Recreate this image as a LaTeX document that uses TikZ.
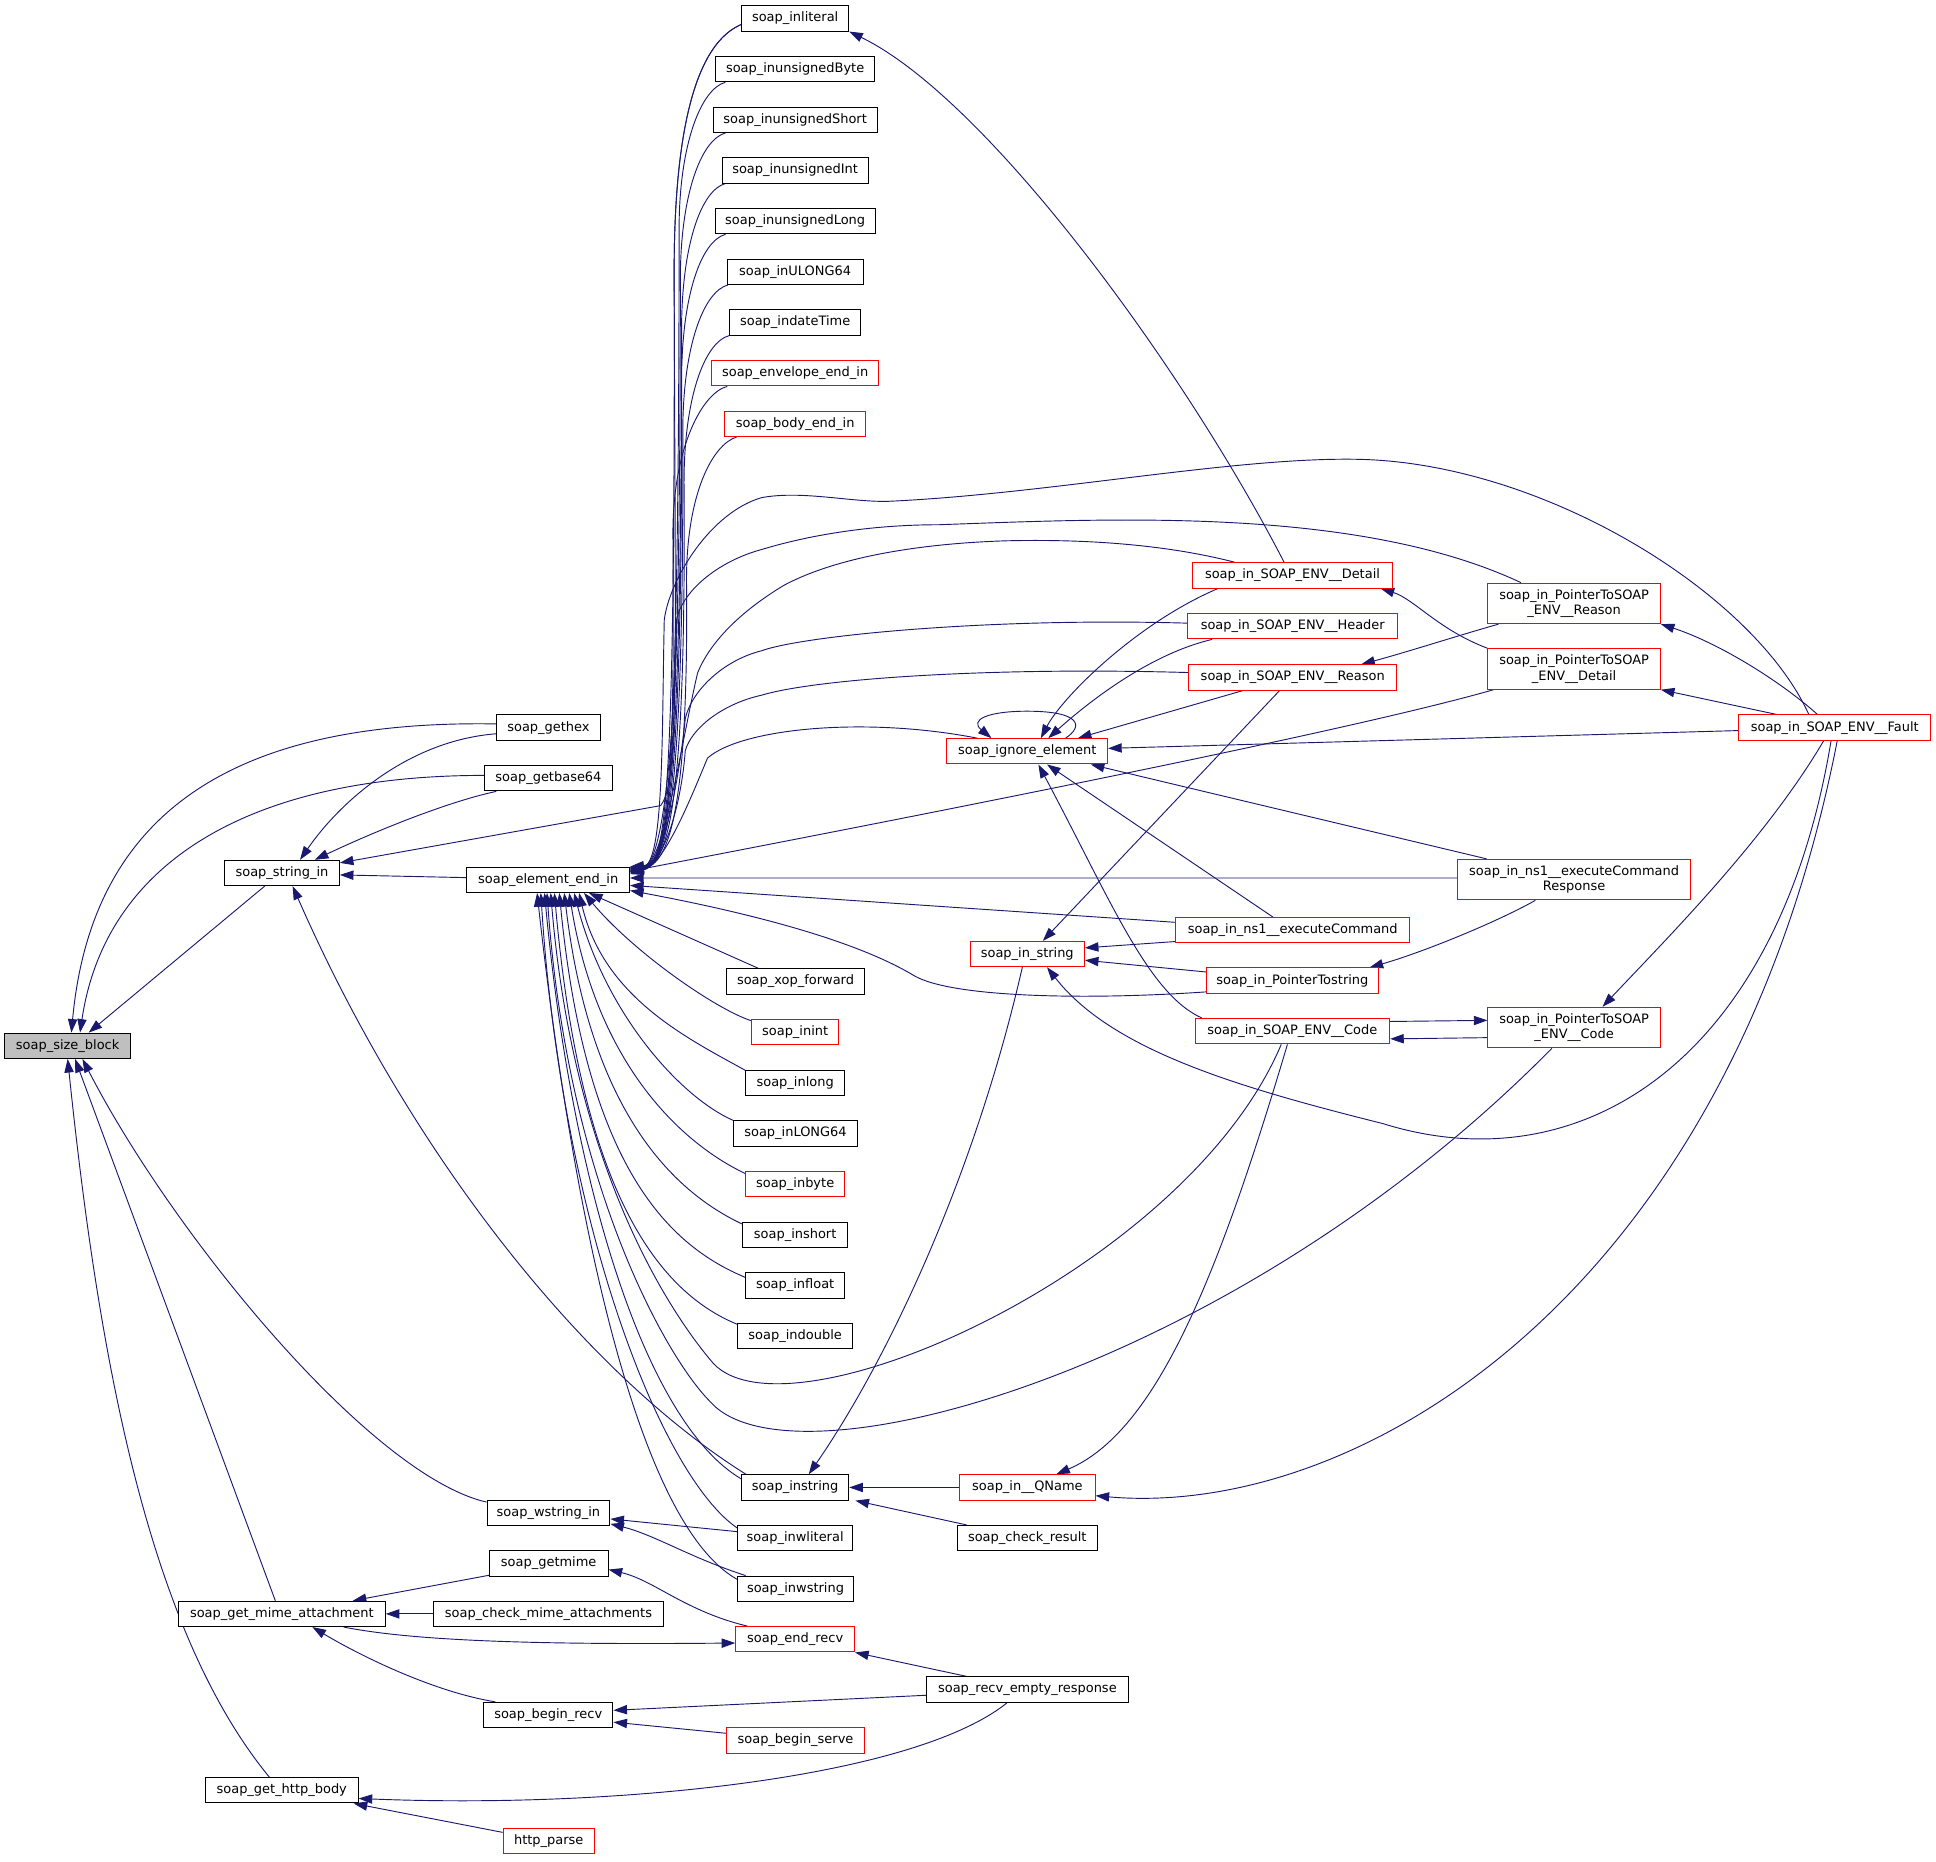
\documentclass[tikz,border=0pt]{standalone}
\usepackage{fontspec}
\setmainfont{DejaVu Sans}
\usetikzlibrary{arrows.meta,calc}
\definecolor{edgec}{HTML}{191970}
\definecolor{nred}{HTML}{FF0000}
\definecolor{gfill}{HTML}{BFBFBF}
\pgfdeclarelayer{back}
\pgfdeclarelayer{bg}
\pgfsetlayers{back,bg,main}
\tikzset{
  nd/.style={draw=black, fill=white, line width=0.8pt, minimum height=20.5pt, inner xsep=1pt, inner ysep=0pt, font=\fontsize{10.5}{12.5}\selectfont},
  rd/.style={nd, draw=nred},
  rdd/.style={rd, minimum height=32.8pt, minimum width=139.7pt, align=center},
  e/.style={draw=edgec, line width=0.75pt, {Triangle[length=11pt,width=7.5pt]}-},
}
\begin{document}
\begin{tikzpicture}[x=1pt,y=-1pt]
\begin{pgfonlayer}{back}
\fill[white] (0,0) rectangle (1568,1507.3);
\end{pgfonlayer}
\useasboundingbox (0,0) rectangle (1568,1507.3);
% column 1-3
\node[nd, fill=gfill, minimum width=102.3pt] (ss) at (54.8,847) {soap\_size\_block};
\node[nd, minimum width=92.9pt] (si) at (228.4,707) {soap\_string\_in};
\node[nd, minimum width=167.5pt] (gma) at (228.3,1307.1) {soap\_get\_mime\_attachment};
\node[nd, minimum width=123.7pt] (ghb) at (228.2,1450) {soap\_get\_http\_body};
\node[nd, minimum width=84.3pt] (gh) at (444.2,589.3) {soap\_gethex};
\node[nd, minimum width=103.8pt] (gb) at (444.2,630.3) {soap\_getbase64};
\node[nd, minimum width=131.7pt] (ee) at (444,712.6) {soap\_element\_end\_in};
\node[nd, minimum width=99.5pt] (wsi) at (444.2,1225.2) {soap\_wstring\_in};
\node[nd, minimum width=96.2pt] (gm) at (444.4,1266.2) {soap\_getmime};
\node[nd, minimum width=186.9pt] (cma) at (444.2,1307.1) {soap\_check\_mime\_attachments};
\node[nd, minimum width=104.9pt] (br) at (444,1389) {soap\_begin\_recv};
\node[rd, minimum width=73.8pt] (hp) at (444.4,1491) {http\_parse};
% column 4
\node[nd, minimum width=86.8pt] (il) at (644,14.9) {soap\_inliteral};
\node[nd, minimum width=128.4pt] (iub) at (644,56) {soap\_inunsignedByte};
\node[nd, minimum width=133pt] (ius) at (644,97) {soap\_inunsignedShort};
\node[nd, minimum width=118.2pt] (iui) at (644,138) {soap\_inunsignedInt};
\node[nd, minimum width=129.8pt] (iul) at (644,179.1) {soap\_inunsignedLong};
\node[nd, minimum width=110pt] (iu64) at (644,220.1) {soap\_inULONG64};
\node[nd, minimum width=106.3pt] (idt) at (644,261.2) {soap\_indateTime};
\node[rd, minimum width=135.2pt] (eei) at (644,302.3) {soap\_envelope\_end\_in};
\node[rd, minimum width=114pt] (bei) at (644,343.3) {soap\_body\_end\_in};
\node[nd, minimum width=111.4pt] (xop) at (644.3,794.9) {soap\_xop\_forward};
\node[rd, minimum width=70.2pt] (iint) at (644,835.9) {soap\_inint};
\node[nd, minimum width=80pt] (ilong) at (644,877) {soap\_inlong};
\node[nd, minimum width=100.5pt] (il64) at (644.3,918) {soap\_inLONG64};
\node[rd, minimum width=80pt] (ibyte) at (644,959.1) {soap\_inbyte};
\node[nd, minimum width=84.6pt] (ishort) at (644,1000.1) {soap\_inshort};
\node[nd, minimum width=80pt] (ifloat) at (644,1041.2) {soap\_infloat};
\node[nd, minimum width=93pt] (idouble) at (644,1082.2) {soap\_indouble};
\node[nd, minimum width=86.8pt] (istr) at (644,1204.7) {soap\_instring};
\node[nd, minimum width=93pt] (iwl) at (644,1245.7) {soap\_inwliteral};
\node[nd, minimum width=94pt] (iws) at (644.3,1286.7) {soap\_inwstring};
\node[rd, minimum width=96.2pt] (er) at (644,1327.7) {soap\_end\_recv};
\node[rd, minimum width=111.4pt] (bs) at (644.3,1409.6) {soap\_begin\_serve};
% column 5
\node[rd, minimum width=130.1pt] (ig) at (832,608.5) {soap\_ignore\_element};
\node[rd, minimum width=92.5pt] (ins) at (832,772.7) {soap\_in\_string};
\node[rd, minimum width=109.6pt] (qn) at (832.1,1204.7) {soap\_in\_\_QName};
\node[nd, minimum width=113.5pt] (cr) at (832,1245.7) {soap\_check\_result};
\node[nd, minimum width=163.1pt] (rer) at (832.1,1368.4) {soap\_recv\_empty\_response};
% column 6
\node[rd, minimum width=162pt] (det) at (1046.8,466) {soap\_in\_SOAP\_ENV\_\_Detail};
\node[rd, minimum width=169.7pt] (hdr) at (1047,507.2) {soap\_in\_SOAP\_ENV\_\_Header};
\node[rd, minimum width=168.2pt] (rea) at (1047,548.7) {soap\_in\_SOAP\_ENV\_\_Reason};
\node[rd, minimum width=189.2pt] (exc) at (1047,753.4) {soap\_in\_ns1\_\_executeCommand};
\node[rd, minimum width=139.3pt] (pts) at (1046.7,794.2) {soap\_in\_PointerTostring};
\node[rd, minimum width=157.6pt] (code) at (1046.7,835.2) {soap\_in\_SOAP\_ENV\_\_Code};
% column 7-8
\node[rdd] (ptr) at (1274.9,488.7) {soap\_in\_PointerToSOAP\\\_ENV\_\_Reason};
\node[rdd] (ptd) at (1274.9,541.8) {soap\_in\_PointerToSOAP\\\_ENV\_\_Detail};
\node[rdd, minimum width=188.9pt] (resp) at (1274.9,712.4) {soap\_in\_ns1\_\_executeCommand\\Response};
\node[rdd] (ptc) at (1274.9,832.2) {soap\_in\_PointerToSOAP\\\_ENV\_\_Code};
\node[rd, minimum width=155.8pt] (flt) at (1486,589.3) {soap\_in\_SOAP\_ENV\_\_Fault};

\begin{pgfonlayer}{bg}
% soap_size_block
\draw[e] ($(ss.north)+(3,0)$) .. controls (75,650) and (200,583) .. ($(gh.west)+(0,-3)$);
\draw[e] ($(ss.north)+(10,0)$) .. controls (85,700) and (200,628) .. ($(gb.west)+(0,-2.3)$);
\draw[e] ($(ss.north)+(17,0)$) -- ($(si.south)+(-14,0)$);
\draw[e] ($(ss.south)+(12,0)$) .. controls (140,1000) and (300,1195) .. ($(wsi.north west)+(0,2)$);
\draw[e] ($(ss.south)+(6,0)$) -- ($(gma.north)+(-5.3,0)$);
\draw[e] (ss.south) .. controls (80,1100) and (120,1320) .. ($(ghb.north)+(-10,0)$);
% soap_string_in
\draw[e] ($(si.north)+(14.6,0)$) .. controls (275,650) and (330,600) .. ($(gh.west)+(0,5)$);
\draw[e] ($(si.north)+(26.6,0)$) .. controls (300,675) and (360,650) .. ($(gb.south west)+(10,0)$);
\draw[e] ($(si.east)+(0,1.6)$) -- ($(ee.west)+(0,-1.8)$);
\draw[e] ($(si.north east)+(0,2.5)$) -- (535,652.5) .. controls (550,633) and (547,560) .. (546,220) .. controls (546,100) and (565,35) .. ($(il.west)+(0,5)$);
\draw[e] ($(si.south)+(8.6,0)$) .. controls (330,930) and (470,1110) .. ($(istr.north west)+(4,0)$);
% element_end_in, upper fan
\draw[e] (ee.north east) .. controls (538,700) and (547,675) .. (546,220) .. controls (546,100) and (565,35) .. ($(il.west)+(0,5)$);
\draw[e] ($(ee.north east)+(0,0.5)$) .. controls (538,700) and (550,675) .. (550,186) .. controls (550,116) and (568,72) .. ($(iub.south west)+(8,0)$);
\draw[e] ($(ee.north east)+(0,1)$) .. controls (538,700) and (551,675) .. (551,227) .. controls (551,157) and (568,113) .. ($(ius.south west)+(10.5,0)$);
\draw[e] ($(ee.north east)+(0,1.5)$) .. controls (538,700) and (552,675) .. (552,268) .. controls (552,198) and (568,154) .. ($(iui.south west)+(3,0)$);
\draw[e] ($(ee.north east)+(0,2)$) .. controls (538,700) and (553,675) .. (552,309) .. controls (552,239) and (568,195) .. ($(iul.south west)+(9,0)$);
\draw[e] ($(ee.north east)+(0,2.5)$) .. controls (538,700) and (554,675) .. (553,350) .. controls (553,280) and (570,236) .. ($(iu64.south west)+(1,0)$);
\draw[e] ($(ee.north east)+(0,3)$) .. controls (538,700) and (556,675) .. (554,391) .. controls (554,321) and (571,277) .. (idt.south west);
\draw[e] ($(ee.north east)+(0,3.5)$) .. controls (538,700) and (547,675) .. (545,432) .. controls (545,362) and (569,318) .. ($(eei.south west)+(13,0)$);
\draw[e] ($(ee.north east)+(0,4)$) .. controls (538,700) and (558,675) .. (556,470) .. controls (556,400) and (577,360) .. ($(bei.south west)+(10,0)$);
% element_end_in, lower fan
\draw[e] ($(ee.south)+(33,0)$) -- ($(xop.north west)+(26,0)$);
\draw[e] ($(ee.south)+(29,0)$) .. controls (513,771) and (579,817) .. ($(iint.north west)+(0,1.5)$);
\draw[e] ($(ee.south)+(25,0)$) .. controls (489,808) and (557,841) .. ($(ilong.north west)+(0,0.5)$);
\draw[e] ($(ee.south)+(21,0)$) .. controls (490,820) and (550,888) .. (il64.north west);
\draw[e] ($(ee.south)+(17,0)$) .. controls (483,860) and (550,925) .. ($(ibyte.north west)+(0,2)$);
\draw[e] ($(ee.south)+(13,0)$) .. controls (478,900) and (545,965) .. ($(ishort.north west)+(0,2)$);
\draw[e] ($(ee.south)+(9,0)$) .. controls (475,950) and (545,1010) .. ($(ifloat.north west)+(0,4)$);
\draw[e] ($(ee.south)+(5,0)$) .. controls (470,960) and (530,1045) .. ($(idouble.north west)+(0,1)$);
\draw[e] ($(ee.south)+(2,0)$) .. controls (465,950) and (545,1065) .. (575,1101) .. controls (630,1175) and (960,1030) .. ($(code.south)+(-9,0)$);
\draw[e] ($(ee.south)+(-1,0)$) .. controls (460,960) and (540,1100) .. (575,1135) .. controls (640,1210) and (1000,1110) .. ($(ptc.south)+(-18,0)$);
\draw[e] ($(ee.south)+(-3,0)$) .. controls (462,950) and (520,1150) .. ($(istr.west)+(0,-7)$);
\draw[e] ($(ee.south)+(-6,0)$) .. controls (455,990) and (535,1195) .. ($(iwl.north west)+(0,2.5)$);
\draw[e] ($(ee.south)+(-9,0)$) .. controls (460,950) and (510,1230) .. ($(iws.north west)+(0,3)$);
% element_end_in, right side
\draw[e] ($(ee.east)+(0,-1.5)$) -- ($(resp.west)+(0,-1.3)$);
\draw[e] ($(ee.east)+(0,4.5)$) -- ($(exc.west)+(0,-6.4)$);
\draw[e] ($(ee.south east)+(0,-2)$) .. controls (600,738) and (690,760) .. (740,790) .. controls (770,808) and (880,810) .. ($(pts.south west)+(0,-1.5)$);
\draw[e] ($(ee.east)+(0,-7)$) .. controls (800,650) and (1100,590) .. ($(ptd.south west)+(5,0)$);
\draw[e] ($(ee.north east)+(0,1)$) .. controls (538,700) and (536,590) .. (538,502) .. controls (542,470) and (575,415) .. (617,403) .. controls (650,397) and (690,407) .. (720,406) .. controls (850,400) and (1000,370) .. (1100,372) .. controls (1250,375) and (1420,480) .. ($(flt.north)+(-21,0)$);
\draw[e] ($(ee.north east)+(0,2)$) .. controls (538,700) and (546,590) .. (548,502) .. controls (552,480) and (580,455) .. (617,445) .. controls (650,435) and (700,425) .. (760,425) .. controls (900,420) and (1100,410) .. ($(ptr.north)+(-43,0)$);
\draw[e] ($(ee.north east)+(0,3)$) .. controls (538,700) and (552,600) .. (565,545) .. controls (575,520) and (600,495) .. (635,474) .. controls (680,450) and (750,440) .. (815,438) .. controls (900,436) and (960,445) .. ($(det.north)+(-46.8,0)$);
\draw[e] ($(ee.north east)+(0,4)$) .. controls (538,700) and (550,630) .. (555,582) .. controls (560,560) and (585,535) .. (617,527) .. controls (650,515) and (800,500) .. ($(hdr.west)+(0,-2.5)$);
\draw[e] ($(ee.north east)+(0,5)$) .. controls (538,700) and (552,650) .. (555,608) .. controls (560,590) and (585,570) .. (617,563) .. controls (660,550) and (800,540) .. ($(rea.west)+(0,-4)$);
\draw[e] ($(ee.north east)+(0,6)$) .. controls (538,700) and (558,650) .. (573,614) .. controls (600,590) and (700,580) .. ($(ig.north west)+(25,0)$);
% inliteral <- Detail
\draw[e] (il.south east) .. controls (800,80) and (960,300) .. ($(det.north)+(-6.8,0)$);
% ignore_element
\draw[e] ($(ig.north)+(-29,0)$) .. controls (785,583) and (800,576) .. (832,576) .. controls (875,576) and (878,588) .. ($(ig.north)+(31,0)$);
\draw[e] ($(ig.north)+(11,0)$) .. controls (860,565) and (920,505) .. ($(det.south west)+(21,0)$);
\draw[e] ($(ig.north)+(17,0)$) .. controls (880,570) and (930,530) .. ($(hdr.south west)+(20,0)$);
\draw[e] ($(ig.north)+(41,0)$) -- ($(rea.south west)+(44,0)$);
\draw[e] ($(ig.east)+(0,-2.4)$) -- ($(flt.west)+(0,2.4)$);
\draw[e] ($(ig.south east)+(-14,0)$) -- ($(resp.north west)+(24,0)$);
\draw[e] ($(ig.south)+(16,0)$) -- ($(exc.north)+(-16,0)$);
\draw[e] ($(ig.south)+(9,0)$) .. controls (900,730) and (930,805) .. ($(code.north west)+(6,0)$);
% in_string
\draw[e] ($(ins.east)+(0,-5)$) -- ($(exc.south west)+(0,-1.5)$);
\draw[e] ($(ins.east)+(0,5)$) -- ($(pts.west)+(0,-7)$);
\draw[e] ($(ins.north)+(12.6,0)$) -- ($(rea.south)+(-10.7,0)$);
\draw[e] ($(ins.south)+(16,0)$) .. controls (900,850) and (1000,880) .. (1120,910) .. controls (1280,960) and (1440,860) .. ($(flt.south)+(-3,0)$);
% instring, QName
\draw[e] (istr.east) -- (qn.west);
\draw[e] ($(istr.south east)+(5,0)$) -- ($(cr.north west)+(8,0)$);
\draw[e] ($(istr.north)+(11,0)$) .. controls (720,1100) and (790,950) .. ($(ins.south)+(-4,0)$);
\draw[e] ($(qn.north)+(23.4,0)$) .. controls (935,1160) and (985,1040) .. ($(code.south)+(-4,0)$);
\draw[e] ($(qn.east)+(0,6.7)$) .. controls (1100,1230) and (1400,1050) .. ($(flt.south)+(2,0)$);
% right cluster
\draw[e] ($(ptc.north)+(23,0)$) .. controls (1350,760) and (1430,680) .. ($(flt.south)+(-9,0)$);
\draw[e] ($(code.east)+(0,6.2)$) -- ($(ptc.west)+(0,8.2)$);
\draw[e] ($(ptc.west)+(0,-5.8)$) -- ($(code.east)+(0,-7.9)$);
\draw[e] (ptd.south east) -- ($(flt.north)+(-47,0)$);
\draw[e] (ptr.south east) .. controls (1390,520) and (1440,550) .. ($(flt.north)+(-14,0)$);
\draw[e] ($(rea.north east)+(-29,0)$) .. controls (1140,528) and (1180,515) .. ($(ptr.south west)+(9,0)$);
\draw[e] ($(det.south east)+(-10,0)$) .. controls (1145,485) and (1165,510) .. (ptd.north west);
\draw[e] ($(pts.north east)+(-7.5,0)$) .. controls (1150,772) and (1210,748) .. ($(resp.south)+(-31.4,0)$);
% bottom left
\draw[e] ($(gma.north)+(57.4,0)$) -- ($(gm.south west)+(0,-1)$);
\draw[e] (gma.east) -- (cma.west);
\draw[e] ($(gma.south)+(24.7,0)$) .. controls (290,1340) and (350,1370) .. ($(br.north west)+(10,0)$);
\draw[e] ($(er.west)+(0,3)$) .. controls (450,1332) and (340,1330) .. ($(gma.south)+(50,0)$);
\draw[e] ($(gm.east)+(0,5)$) .. controls (530,1280) and (555,1305) .. ($(er.north west)+(10,0)$);
\draw[e] ($(br.east)+(0,-3.8)$) -- ($(rer.west)+(0,4.6)$);
\draw[e] ($(br.east)+(0,5.8)$) -- ($(bs.west)+(0,-5.8)$);
\draw[e] (er.south east) -- ($(rer.north)+(-49,0)$);
\draw[e] ($(ghb.east)+(0,6.6)$) .. controls (500,1465) and (740,1440) .. ($(rer.south)+(-16.4,0)$);
\draw[e] ($(ghb.south east)+(-4,0)$) -- ($(hp.north west)+(0,3.7)$);
\draw[e] ($(wsi.east)+(0,5)$) -- ($(iwl.west)+(0,-5.2)$);
\draw[e] ($(wsi.east)+(0,9)$) .. controls (530,1243) and (560,1262) .. ($(iws.north west)+(7,0)$);
\end{pgfonlayer}
\end{tikzpicture}
\end{document}
